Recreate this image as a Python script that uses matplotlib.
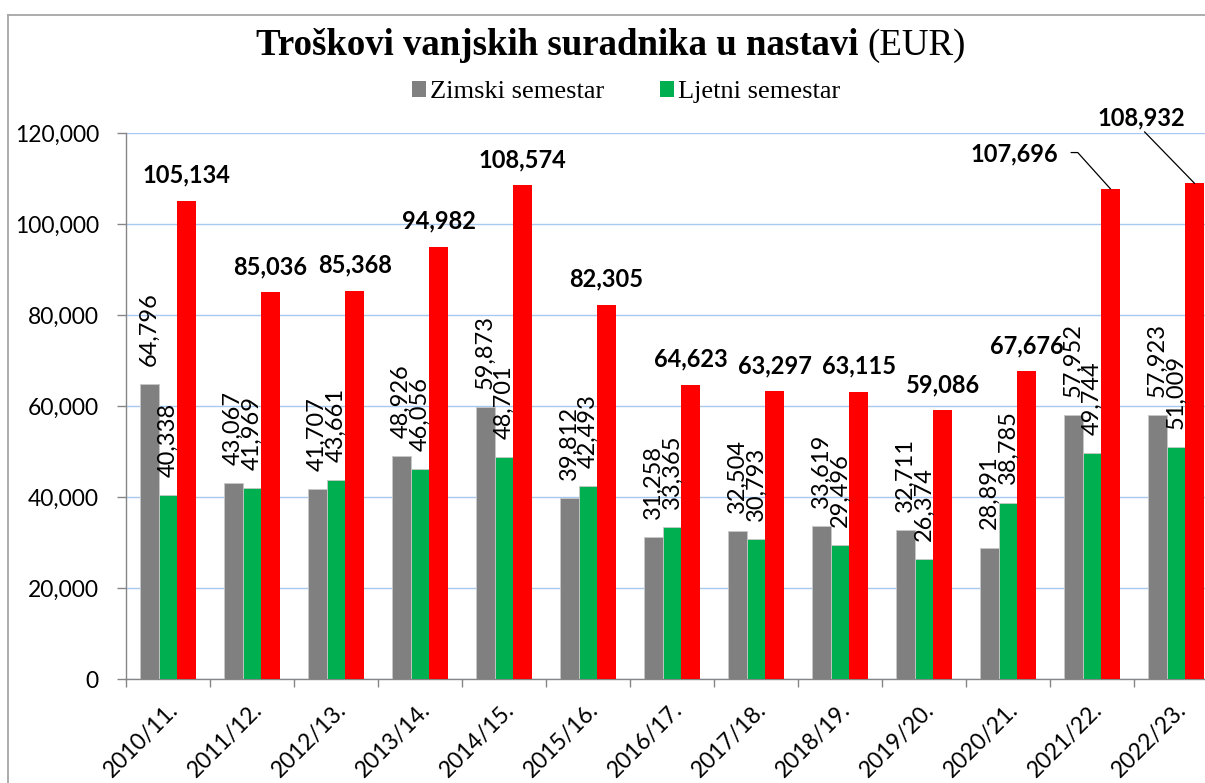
import matplotlib
matplotlib.use("Agg")
import matplotlib.pyplot as plt
import matplotlib.transforms as mtransforms
from matplotlib.patches import Patch
from matplotlib.lines import Line2D
from matplotlib.ticker import FuncFormatter, MultipleLocator
import numpy as np

# Academic years and semester costs (EUR)
godine = ['2010/11.', '2011/12.', '2012/13.', '2013/14.', '2014/15.', '2015/16.',
          '2016/17.', '2017/18.', '2018/19.', '2019/20.', '2020/21.', '2021/22.',
          '2022/23.']
zimski = [64796, 43067, 41707, 48926, 59873, 39812, 31258, 32504, 33619, 32711,
          28891, 57952, 57923]
ljetni = [40338, 41969, 43661, 46056, 48701, 42493, 33365, 30793, 29496, 26374,
          38785, 49744, 51009]
ukupno = [105134, 85036, 85368, 94982, 108574, 82305, 64623, 63297, 63115, 59086,
          67676, 107696, 108932]

GREY = '#808080'
GREEN = '#00B050'
RED = '#FF0000'
AXIS = '#868686'
SANS = 'Lato'
SERIF = 'Liberation Serif'

W, H = 1205, 783
fig = plt.figure(figsize=(W / 100, H / 100), dpi=100)
fig.patch.set_facecolor('white')

# outer chart frame (top and left edge visible)
fig.add_artist(Line2D([8 / W, 1.0], [1 - 15 / H, 1 - 15 / H], transform=fig.transFigure,
                      color='#a6a6a6', lw=1.3))
fig.add_artist(Line2D([8 / W, 8 / W], [0, 1 - 15 / H], transform=fig.transFigure,
                      color='#a6a6a6', lw=1.3))

left, right = 126, 1218
top, bottom = 133, 679
ax = fig.add_axes([left / W, (H - bottom) / H, (right - left) / W, (bottom - top) / H])

x = np.arange(len(godine))
w = 0.221
ax.bar(x - w, zimski, w, color=GREY, edgecolor='#c8c8c8', lw=0.6, zorder=3)
ax.bar(x, ljetni, w, color=GREEN, edgecolor='#c8c8c8', lw=0.6, zorder=3)
ax.bar(x + w, ukupno, w, color=RED, zorder=3)

ax.set_xlim(-0.5, len(godine) - 0.5)
ax.set_ylim(0, 120000)

ax.yaxis.set_major_locator(MultipleLocator(20000))
ax.yaxis.set_major_formatter(FuncFormatter(lambda v, p: f'{int(v):,}'))
ax.grid(axis='y', color='#a9c8ef', lw=1.0, zorder=0)
ax.set_axisbelow(True)

for s in ('top', 'right'):
    ax.spines[s].set_visible(False)
for s in ('left', 'bottom'):
    ax.spines[s].set_color(AXIS)
    ax.spines[s].set_linewidth(1.0)

ax.tick_params(axis='y', length=6.5, width=1, color=AXIS, pad=13,
               labelsize=16.5, labelcolor='black')
for t in ax.get_yticklabels():
    t.set_fontfamily(SANS)

ax.set_xticks(x)
ax.set_xticks(np.arange(-0.5, len(godine)), minor=True)
ax.tick_params(axis='x', which='major', length=0, pad=20)
ax.tick_params(axis='x', which='minor', length=6, width=1, color=AXIS)
ax.set_xticklabels(godine, rotation=45, ha='right', va='center',
                   rotation_mode='anchor', fontsize=16.5, fontfamily=SANS)
shift = mtransforms.ScaledTranslation(7 / 100, 0, fig.dpi_scale_trans)
for t in ax.get_xticklabels():
    t.set_transform(t.get_transform() + shift)

# vertical value labels for the two semesters
for xi, v in zip(x - w, zimski):
    ax.annotate(f'{v:,}', (xi, v), xytext=(0, 13), textcoords='offset points',
                rotation=90, ha='center', va='bottom', fontsize=17,
                fontfamily=SANS, zorder=5)
for xi, v in zip(x, ljetni):
    ax.annotate(f'{v:,}', (xi, v), xytext=(0, 13), textcoords='offset points',
                rotation=90, ha='center', va='bottom', fontsize=17,
                fontfamily=SANS, zorder=5)

# bold totals above the red bars; the last two use leader lines
n = len(ukupno)
for i, (xi, v) in enumerate(zip(x + w, ukupno)):
    if i < n - 2:
        ax.annotate(f'{v:,}', (xi, v), xytext=(0, 13), textcoords='offset points',
                    ha='center', va='baseline', fontsize=17, fontweight='bold',
                    fontfamily=SANS, zorder=5)
ax.annotate(f'{ukupno[-2]:,}', (x[-2] + w, ukupno[-2]), xytext=(-69, 20),
            textcoords='offset points', ha='center', va='baseline', fontsize=17,
            fontweight='bold', fontfamily=SANS, annotation_clip=False,
            arrowprops=dict(arrowstyle='-', color='black', lw=0.9, shrinkA=7,
                            shrinkB=0, relpos=(1, 0.55),
                            connectionstyle='angle,angleA=0,angleB=132,rad=0'))
ax.annotate(f'{ukupno[-1]:,}', (x[-1] + w, ukupno[-1]), xytext=(-38, 42),
            textcoords='offset points', ha='center', va='baseline', fontsize=17,
            fontweight='bold', fontfamily=SANS, annotation_clip=False,
            arrowprops=dict(arrowstyle='-', color='black', lw=0.9, shrinkA=0,
                            shrinkB=0, relpos=(0.5, 0)))

# title: bold name followed by the unit in regular weight
fig.canvas.draw()
r = fig.canvas.get_renderer()
t1 = fig.text(0, 0, 'Troškovi vanjskih suradnika u nastavi ', fontsize=26.6,
              fontweight='bold', fontfamily=SERIF)
t2 = fig.text(0, 0, '(EUR)', fontsize=26.6, fontfamily=SERIF)
w1 = t1.get_window_extent(r).width
w2 = t2.get_window_extent(r).width
cx = 611
x0 = cx - (w1 + w2) / 2
ty = 1 - 55 / H
t1.set_position((x0 / W, ty))
t1.set_va('baseline')
t2.set_position(((x0 + w1) / W, ty))
t2.set_va('baseline')

handles = [Patch(facecolor=GREY, label='Zimski semestar'),
           Patch(facecolor=GREEN, label='Ljetni semestar')]
fig.legend(handles=handles, loc='center', bbox_to_anchor=(626 / W, 1 - 92 / H),
           ncol=2, frameon=False, prop={'family': SERIF, 'size': 19},
           handlelength=0.55, handleheight=0.55, handletextpad=0.15,
           columnspacing=2.1, borderaxespad=0)

fig.savefig('out.png', dpi=100, facecolor='white')
